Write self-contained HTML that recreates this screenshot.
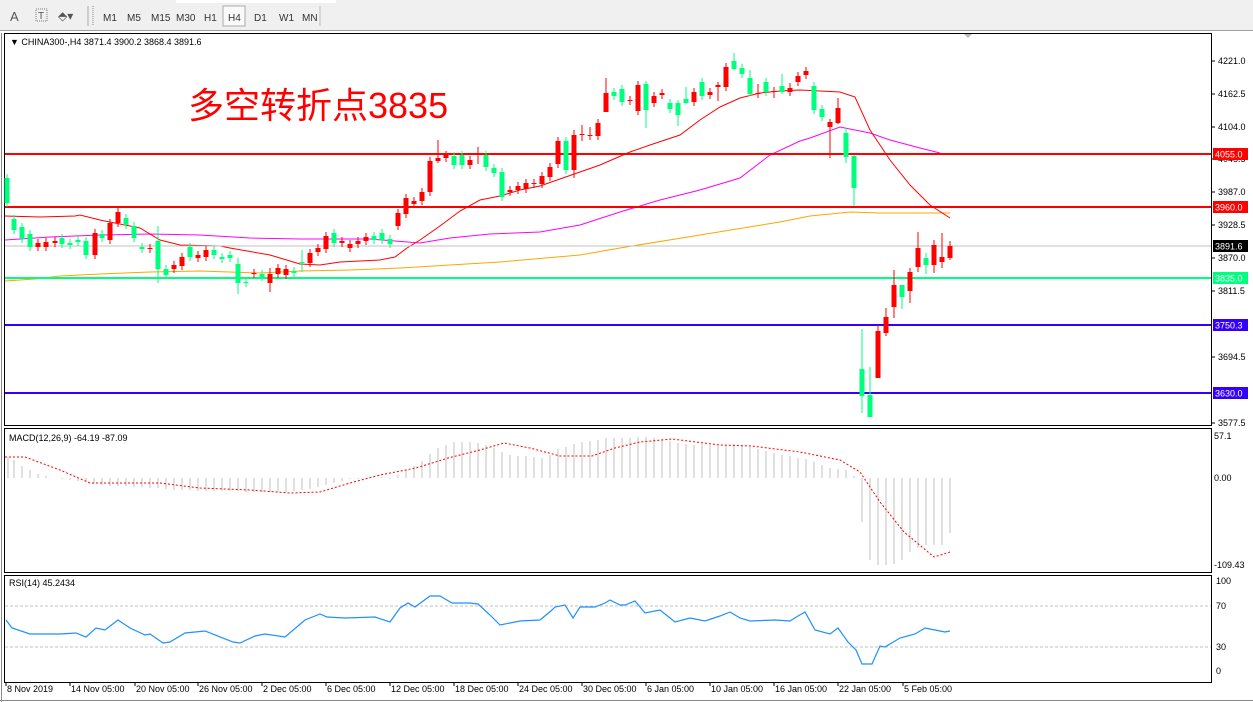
<!DOCTYPE html>
<html><head><meta charset="utf-8"><style>
html,body{margin:0;padding:0;background:#fff;width:1253px;height:702px;overflow:hidden}
svg{display:block;font-family:"Liberation Sans",sans-serif}
</style></head><body>
<svg id="s" width="1253" height="702" xmlns="http://www.w3.org/2000/svg">
<rect x="0" y="0" width="1253" height="30" fill="#f0f0f0"/>
<line x1="0" y1="30.5" x2="1253" y2="30.5" stroke="#a0a0a0"/>
<rect x="176" y="0" width="160" height="3" fill="#fff"/>
<text x="10" y="21" font-size="13" fill="#555">A</text>
<rect x="36" y="9" width="11" height="12" fill="none" stroke="#777" stroke-dasharray="1,1"/>
<text x="38" y="19" font-size="10" fill="#555">T</text>
<text x="58" y="20" font-size="12" fill="#555">⬘▾</text>
<line x1="88" y1="6" x2="88" y2="26" stroke="#aaa"/><line x1="93" y1="6" x2="93" y2="26" stroke="#888" stroke-dasharray="1,1"/>
<g font-size="10" fill="#333">
<text x="103" y="21">M1</text><text x="127" y="21">M5</text><text x="151" y="21">M15</text><text x="176" y="21">M30</text><text x="204" y="21">H1</text>
<rect x="223" y="6" width="22" height="20" fill="#fafafa" stroke="#aaa"/><text x="228" y="21">H4</text>
<text x="254" y="21">D1</text><text x="279" y="21">W1</text><text x="302" y="21">MN</text></g>
<line x1="320" y1="6" x2="320" y2="26" stroke="#bbb"/>
<rect x="4.5" y="33.5" width="1207" height="392" fill="#fff" stroke="#000"/>
<rect x="4.5" y="428.5" width="1207" height="144" fill="#fff" stroke="#000"/>
<rect x="4.5" y="575.5" width="1207" height="107" fill="#fff" stroke="#000"/>
<line x1="1.5" y1="33" x2="1.5" y2="702" stroke="#888"/>
<line x1="0" y1="700.5" x2="1253" y2="700.5" stroke="#888"/>
<path d="M964 34l4 4 4-4z" fill="#bbb"/>
<text x="10" y="45" font-size="9" fill="#000">▼ CHINA300-,H4  3871.4 3900.2 3868.4 3891.6</text>
<text x="188" y="118" font-size="36" fill="#f00" font-family="'Liberation Sans','Noto Sans CJK SC',sans-serif">多空转折点3835</text>
<g id="lines"></g>
<g id="cand"></g>
<g id="ax" font-size="9" fill="#000"></g>
</svg>
<script>
var S=document.getElementById('s'),ns='http://www.w3.org/2000/svg';
function el(t,a,p,txt){var e=document.createElementNS(ns,t);for(var k in a)e.setAttribute(k,a[k]);if(txt!=null)e.textContent=txt;(p||S).appendChild(e);return e;}
var L=document.getElementById('lines'),C=document.getElementById('cand'),AX=document.getElementById('ax');
function pl(pts,col,w,dash,par){el('polyline',{points:pts.map(function(p){return p.join(',')}).join(' '),fill:'none',stroke:col,'stroke-width':w||1,'stroke-dasharray':dash||''},par||L);}
// MAs
pl([[5,281],[35,279],[60,276],[100,274],[150,272],[200,271],[260,273],[300,271],[350,270],[400,268],[500,262],[580,255],[620,248],[700,235],[780,222],[810,216],[850,212],[880,213],[950,213]],'#ffa500');
pl([[5,240],[50,237],[100,235],[150,234],[200,235],[250,238],[300,239],[370,239],[395,241],[420,243],[450,238],[490,234],[540,232],[580,225],[620,212],[660,200],[700,190],[740,178],[770,155],[800,141],[810,138],[840,127],[870,133],[890,140],[920,148],[940,153]],'#f0f');
pl([[5,216],[40,217],[75,216],[80,215],[100,220],[140,228],[160,240],[180,245],[220,246],[230,248],[270,255],[300,264],[320,265],[340,262],[380,260],[395,257],[407,248],[420,240],[440,226],[460,211],[480,200],[500,196],[520,190],[540,186],[600,165],[630,152],[650,145],[680,135],[700,120],[720,107],[740,98],[760,93],[780,91],[800,90],[840,92],[855,97],[870,130],[890,160],[910,185],[930,205],[950,218]],'#f00');
// horizontal levels
var lv=[[154,'#f00','4055.0',2],[207,'#f00','3960.0',2],[246,'#c0c0c0','3891.6',1],[278,'#00ff7f','3835.0',2],[325,'#3300ff','3750.3',2],[393,'#3300ff','3630.0',2]];
// candles [x,top,bottom,color,wt,wb]
var cd=[[7,178,203,'g'],[14,219,230,'g'],[22,227,239,'g'],[30,234,247,'g'],[38,243,247,'r'],[46,242,247,'r'],[55,241,243,'r'],[62,238,244,'g'],[70,243,245,'g'],[78,240,242,'g'],[86,241,255,'g'],[95,233,255,'r'],[102,234,238,'g'],[110,223,240,'r'],[118,212,223,'r'],[126,218,225,'g'],[134,226,238,'g'],[142,247,249,'g'],[150,248,249,'r'],[158,241,269,'g',226,283],[166,269,275,'g'],[174,265,269,'r'],[182,257,266,'r'],[190,247,257,'g'],[198,255,258,'r'],[206,250,257,'r'],[214,250,255,'g'],[222,257,259,'g'],[230,255,258,'g'],[238,264,283,'g',258,294],[246,282,283,'g'],[254,273,274,'r'],[262,274,277,'g'],[270,274,283,'r',268,292],[278,268,274,'r'],[286,269,275,'r'],[294,271,273,'g'],[302,262,263,'g',250,272],[310,253,263,'r'],[318,248,252,'r'],[326,236,249,'r'],[334,233,243,'g'],[342,241,243,'r'],[350,244,248,'r'],[358,241,244,'r'],[366,237,241,'r'],[374,236,240,'g'],[382,233,240,'g'],[390,239,244,'g'],[398,213,226,'r'],[406,198,214,'r'],[414,201,204,'r'],[422,192,201,'r'],[430,161,192,'r'],[438,158,161,'r',140,163],[446,155,158,'r'],[454,156,165,'g'],[462,155,165,'g'],[470,160,165,'r'],[478,154,155,'r',147,164],[486,155,167,'g'],[494,168,173,'g'],[502,172,197,'g'],[510,190,192,'r'],[518,186,190,'r'],[526,183,189,'r'],[534,183,184,'r'],[542,176,184,'r'],[550,167,177,'r'],[558,141,164,'r'],[566,141,170,'g'],[574,135,170,'r',130,178],[582,134,135,'r',125,141],[590,135,136,'r',127,140],[598,123,136,'r'],[606,93,112,'r',78,112],[614,92,96,'g'],[622,89,102,'g'],[630,100,101,'r'],[638,85,111,'r'],[646,84,110,'g',81,128],[654,96,103,'r'],[662,93,95,'r'],[670,103,109,'g'],[678,103,115,'g',100,126],[686,99,103,'g',87,104],[694,92,102,'r'],[702,82,96,'g'],[710,92,95,'r'],[718,85,87,'r',82,101],[726,67,87,'r'],[734,61,69,'g',53,70],[742,68,74,'g'],[750,78,94,'g',70,96],[758,93,94,'r',84,98],[766,82,92,'g'],[774,91,92,'r',87,98],[782,86,92,'g',74,94],[790,88,92,'r',83,96],[798,76,82,'r'],[806,71,75,'r'],[814,86,110,'g'],[822,109,117,'g'],[830,122,127,'r',119,158],[838,108,123,'r',98,124],[846,133,157,'g',128,163],[854,156,188,'g',155,206],[862,369,396,'g',329,413],[870,395,417,'g',367,417],[878,331,378,'r',325,378],[886,317,333,'r',308,336],[894,285,307,'r',270,318],[902,285,297,'g',285,309],[910,272,291,'r',268,303],[918,248,267,'r',232,272],[926,258,265,'g',253,274],[934,245,265,'r',240,273],[942,257,262,'r',233,268],[950,246,258,'r',241,260]];
cd.forEach(function(c){var col=c[3]=='r'?'#ff0000':'#00ff7f';var wt=c[4]!=null?c[4]:c[1]-4,wb=c[5]!=null?c[5]:c[2]+4;
el('line',{x1:c[0],x2:c[0],y1:wt,y2:wb,stroke:col,'stroke-width':1},C);
el('rect',{x:c[0]-2.5,y:c[1],width:5,height:Math.max(1,c[2]-c[1]),fill:col},C);});
lv.forEach(function(l){el('line',{x1:5,x2:1211,y1:l[0],y2:l[0],stroke:l[1],'stroke-width':l[3]},L);});
// price axis
[[61,'4221.0'],[94,'4162.5'],[127,'4104.0'],[159,'4045.5'],[192,'3987.0'],[225,'3928.5'],[258,'3870.0'],[291,'3811.5'],[357,'3694.5'],[423,'3577.5']].forEach(function(t){el('line',{x1:1212,x2:1215,y1:t[0],y2:t[0],stroke:'#000'},AX);el('text',{x:1218,y:t[0]+3},AX,t[1]);});
lv.forEach(function(l){var bg=l[2]=='3891.6'?'#000':l[1];el('rect',{x:1213,y:l[0]-6,width:35,height:12,fill:bg},AX);el('text',{x:1215,y:l[0]+3.5,fill:'#fff'},AX,l[2]);});
// MACD
var hv=[[8,457],[14,460],[22,466],[30,470],[38,474],[46,476],[54,478],[62,479],[70,480],[78,481],[86,482],[94,484],[102,485],[110,486],[118,486],[126,486],[134,487],[142,487],[150,488],[158,488],[166,489],[174,490],[182,490],[190,490],[198,491],[206,491],[214,491],[222,491],[230,491],[238,491],[246,492],[254,492],[262,492],[270,492],[278,492],[286,492],[294,491],[302,490],[310,489],[318,487],[326,485],[334,483],[342,481],[350,479],[358,479],[366,479],[374,478],[382,477],[390,479],[398,475],[406,470],[414,466],[422,461],[430,454],[438,448],[446,445],[454,442],[462,442],[470,442],[478,443],[486,445],[494,448],[502,452],[510,455],[518,456],[526,456],[534,457],[542,458],[550,455],[558,449],[566,447],[574,444],[582,442],[590,441],[598,440],[606,438],[614,438],[622,438],[630,438],[638,437],[646,437],[654,438],[662,439],[670,441],[678,443],[686,444],[694,445],[702,444],[710,445],[718,446],[726,445],[734,444],[742,445],[750,447],[758,449],[766,451],[774,453],[782,455],[790,456],[798,458],[806,459],[814,462],[822,465],[830,468],[838,469],[846,470],[854,476],[862,522],[870,560],[878,565],[886,565],[894,564],[902,560],[910,552],[918,548],[926,545],[934,545],[942,545],[950,533]];
hv.forEach(function(h){el('line',{x1:h[0],x2:h[0],y1:478,y2:h[1],stroke:'#c0c0c0','stroke-width':1});});
pl([[5,457],[25,457],[60,470],[90,483],[160,483],[200,488],[250,490],[290,493],[320,492],[350,483],[380,475],[416,468],[448,458],[480,450],[504,443],[530,448],[560,456],[592,456],[615,448],[640,442],[672,439],[720,445],[752,446],[800,452],[840,460],[860,472],[880,502],[904,532],[934,557],[950,552]],'#f00',1,'2,2',S);
el('text',{x:9,y:441,'font-size':9},S,'MACD(12,26,9) -64.19 -87.09');
[[439,'57.1'],[481,'0.00'],[568,'-109.43']].forEach(function(t){el('text',{x:1214,y:t[0],'font-size':9},S,t[1]);});
// RSI
[606,647].forEach(function(y){el('line',{x1:5,x2:1211,y1:y,y2:y,stroke:'#c0c0c0','stroke-dasharray':'3,2'});});
pl([[6,620],[12,628],[30,634],[60,634],[76,633],[86,637],[96,628],[105,630],[118,620],[130,628],[145,635],[150,634],[163,643],[170,642],[185,633],[205,631],[233,642],[240,643],[255,636],[265,634],[285,637],[305,620],[320,614],[327,617],[345,618],[375,617],[390,622],[400,608],[408,603],[415,607],[430,596],[440,596],[452,603],[470,603],[478,604],[490,615],[500,625],[520,621],[540,620],[552,610],[555,607],[565,605],[573,618],[580,607],[595,607],[605,603],[610,600],[620,605],[625,605],[635,601],[645,613],[660,610],[675,622],[690,618],[705,621],[720,616],[730,612],[740,618],[750,621],[775,620],[790,621],[798,616],[805,612],[815,630],[830,634],[838,628],[848,642],[856,650],[862,664],[872,664],[880,646],[885,647],[900,638],[915,634],[925,628],[935,630],[945,632],[950,631]],'#1e90ff',1.2,'',S);
el('text',{x:9,y:586,'font-size':9},S,'RSI(14) 45.2434');
[[584,'100'],[609,'70'],[650,'30'],[674,'0']].forEach(function(t){el('text',{x:1216,y:t[0],'font-size':9},S,t[1]);});
// dates
[[5,'8 Nov 2019'],[69,'14 Nov 05:00'],[134,'20 Nov 05:00'],[197,'26 Nov 05:00'],[261,'2 Dec 05:00'],[325,'6 Dec 05:00'],[389,'12 Dec 05:00'],[453,'18 Dec 05:00'],[517,'24 Dec 05:00'],[581,'30 Dec 05:00'],[645,'6 Jan 05:00'],[709,'10 Jan 05:00'],[773,'16 Jan 05:00'],[837,'22 Jan 05:00'],[902,'5 Feb 05:00']].forEach(function(t){el('line',{x1:t[0]+1,x2:t[0]+1,y1:683,y2:686,stroke:'#000'});el('text',{x:t[0]+2,y:692,'font-size':9},S,t[1]);});
</script>
</body></html>
